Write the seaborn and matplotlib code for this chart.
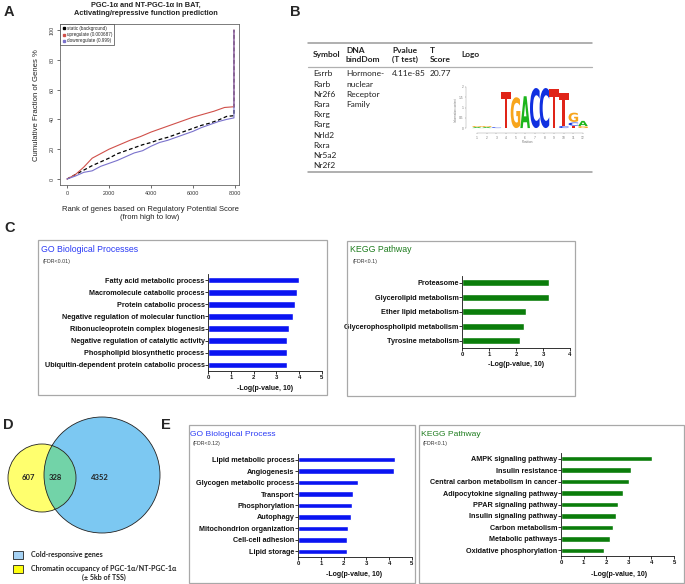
import numpy as np
import pandas as pd
import matplotlib
matplotlib.use("Agg")
import matplotlib.pyplot as plt
import seaborn as sns
from matplotlib.patches import Rectangle, Circle, PathPatch
from matplotlib.textpath import TextPath
from matplotlib.font_manager import FontProperties
from matplotlib.lines import Line2D
from matplotlib.path import Path

# ---------------- data ----------------
# Panel A: cumulative fraction curves
static_rank = [0, 400, 800, 1200, 1600, 2000, 2400, 2800, 3200, 3600, 4000, 4400, 4800, 5200, 5600, 6000, 6400, 6800, 7200, 7600, 7950, 7950]
static_frac = [0, 3, 6, 9, 11.5, 14, 17, 19, 21, 23, 24.5, 26.5, 28, 30, 32, 34, 36, 37.5, 39.5, 42, 42.5, 100]
up_rank = [0, 400, 800, 1200, 1600, 2000, 2500, 3000, 3500, 4000, 4500, 5000, 5500, 6000, 6500, 7000, 7500, 7950, 7950]
up_frac = [0, 3, 8, 14, 17, 20, 23, 26, 28.5, 31.5, 34, 36.5, 39, 41.5, 43.5, 45.5, 48, 48.5, 100]
down_rank = [0, 400, 800, 1200, 1600, 2000, 2400, 2800, 3200, 3600, 4000, 4400, 4800, 5200, 5600, 6000, 6400, 6800, 7200, 7600, 7950, 7950]
down_frac = [0, 2, 4.5, 5.5, 8.5, 10.5, 12.5, 15, 17.5, 19, 22, 24.5, 26, 28, 30, 32, 34.5, 36.5, 38.5, 40, 41, 100]
legend_labels = ["static (background)", "upregulate (0.000687)", "downregulate (0.999)"]

# Panel B: motif table
table_header = ["Symbol", "DNA\nbindDom", "Pvalue\n(T test)", "T\nScore", "Logo"]
tf_symbols = ["Esrrb", "Rarb", "Nr2f6", "Rara", "Rxrg", "Rarg", "Nrld2", "Rxra", "Nr5a2", "Nr2f2"]
dna_binding = ["Hormone-", "nuclear", "Receptor", "Family"]
motif_pvalue = "4.11e-85"
motif_tscore = "20.77"
logo_pos = [1, 1, 2, 2, 3, 4, 5, 6, 7, 8, 9, 10, 10, 11, 11, 11, 12, 12]
logo_letter = ["A", "G", "A", "G", "C", "T", "G", "A", "C", "C", "T", "C", "T", "T", "C", "G", "G", "A"]
logo_bottom = [0, 0.05, 0, 0.05, 0, 0, 0, 0, 0, 0, 0, 0, 0.1, 0, 0.12, 0.3, 0, 0.1]
logo_height = [0.05, 0.05, 0.05, 0.05, 0.04, 1.75, 1.5, 1.55, 1.95, 1.95, 1.9, 0.1, 1.6, 0.1, 0.15, 0.45, 0.1, 0.25]

# Panel C
go_c_terms = ["Fatty acid metabolic process", "Macromolecule catabolic process", "Protein catabolic process",
              "Negative regulation of molecular function", "Ribonucleoprotein complex biogenesis",
              "Negative regulation of catalytic activity", "Phospholipid biosynthetic process",
              "Ubiquitin-dependent protein catabolic process"]
go_c_vals = [3.97, 3.91, 3.80, 3.72, 3.57, 3.48, 3.48, 3.45]
kegg_c_terms = ["Proteasome", "Glycerolipid metabolism", "Ether lipid metabolism",
                "Glycerophospholipid metabolism", "Tyrosine metabolism"]
kegg_c_vals = [3.22, 3.22, 2.36, 2.31, 2.16]

# Panel D
venn_counts = [607, 328, 4352]
venn_legend = ["Cold-responsive genes", "Chromatin occupancy of PGC-1\u03b1/NT-PGC-1\u03b1", "(\u00b1 5kb of TSS)"]

# Panel E
go_e_terms = ["Lipid metabolic process", "Angiogenesis", "Glycogen metabolic process", "Transport",
              "Phosphorylation", "Autophagy", "Mitochondrion organization", "Cell-cell adhesion", "Lipid storage"]
go_e_vals = [4.26, 4.23, 2.62, 2.40, 2.37, 2.31, 2.18, 2.17, 2.17]
kegg_e_terms = ["AMPK signaling pathway", "Insulin resistance", "Central carbon metabolism in cancer",
                "Adipocytokine signaling pathway", "PPAR signaling pathway", "Insulin signaling pathway",
                "Carbon metabolism", "Metabolic pathways", "Oxidative phosphorylation"]
kegg_e_vals = [4.02, 3.08, 3.00, 2.74, 2.51, 2.43, 2.32, 2.17, 1.91]

# ---------------- style ----------------
sns.set_style("ticks")
plt.rcParams["font.family"] = ["Liberation Sans", "DejaVu Sans"]
plt.rcParams["axes.linewidth"] = 0.6

W, H = 685, 584
fig = plt.figure(figsize=(W / 100, H / 100), dpi=100)


def box(x0, y0, x1, y1):
    return [x0 / W, 1 - y1 / H, (x1 - x0) / W, (y1 - y0) / H]


def T(x, y, s, **kw):
    kw.setdefault("va", "center")
    return fig.text(x / W, 1 - y / H, s, **kw)


def hline(x0, x1, y, **kw):
    fig.add_artist(Line2D([x0 / W, x1 / W], [1 - y / H, 1 - y / H], **kw))


def frame(x0, y0, x1, y1):
    fig.add_artist(Rectangle((x0 / W, 1 - y1 / H), (x1 - x0) / W, (y1 - y0) / H,
                             transform=fig.transFigure, fill=False, ec="#a8a8a8", lw=0.9))


BLUE = "#0a14f2"
GREEN = "#0b7d0b"
TITLE_BLUE = "#2b3bf5"
TITLE_GREEN = "#1f7d1f"

# panel letters
for lab, (x, y) in {"A": (4, 12), "B": (290, 12), "C": (4, 228), "D": (3, 425), "E": (161, 425)}.items():
    T(x, y, lab, fontsize=10.5, fontweight="bold")

# ---------------- Panel A ----------------
axA = fig.add_axes(box(60, 24, 239, 185))
sns.lineplot(x=static_rank, y=static_frac, sort=False, estimator=None, color="black",
             linestyle=(0, (3, 2)), lw=0.9, ax=axA)
sns.lineplot(x=up_rank, y=up_frac, sort=False, estimator=None, color="#d0504a", lw=0.8, ax=axA)
sns.lineplot(x=down_rank, y=down_frac, sort=False, estimator=None, color="#7a72cc", lw=0.8, ax=axA)
axA.set_xlim(-333, 8190)
axA.set_ylim(-4, 104)
axA.set_xticks([0, 2000, 4000, 6000, 8000])
axA.set_yticks([0, 20, 40, 60, 80, 100])
axA.tick_params(labelsize=3.9, length=2, width=0.5, pad=2, colors="#333333")
for t in axA.get_yticklabels():
    t.set_rotation(90)
    t.set_va("center")
for s in axA.spines.values():
    s.set_color("#666666")
    s.set_linewidth(0.6)
axA.set_xlabel("")
axA.set_ylabel("")
handles = [Line2D([], [], marker="s", ls="", color=c, ms=1.8, label=l)
           for c, l in zip(["black", "#d0504a", "#7a72cc"], legend_labels)]
lg = axA.legend(handles=handles, loc="upper left", fontsize=3.3, frameon=True, fancybox=False,
                edgecolor="#444444", framealpha=1, borderaxespad=0, handletextpad=0.2,
                borderpad=0.45, labelspacing=0.25, handlelength=0.8)
lg.get_frame().set_linewidth(0.5)
T(146, 9.5, "PGC-1\u03b1 and NT-PGC-1\u03b1 in BAT,\nActivating/repressive function prediction",
  ha="center", fontsize=5.3, fontweight="bold", color="#222222", linespacing=1.25)
T(37, 105, "Cumulative Fraction of Genes %", rotation=90, ha="center", fontsize=5.6, color="#222222")
T(150, 213.5, "Rank of genes based on Regulatory Potential Score\n(from high to low)",
  ha="center", fontsize=5.5, color="#222222", linespacing=1.25)

# ---------------- Panel B ----------------
tfont = dict(family=["Lato", "DejaVu Sans"], fontsize=6.0, color="#222222")
hline(308, 592, 43.3, color="#9a9a9a", lw=1.1)
hline(308, 592, 66.7, color="#b0b0b0", lw=0.9)
hline(308, 592, 171.7, color="#9a9a9a", lw=1.1)
col_x = [313, 346, 392, 430, 461]
for x, h in zip(col_x, table_header):
    T(x, 55, h, ha="left", fontweight="bold", linespacing=1.35, **tfont)
row_y0, row_dy = 74, 10.2
for i, s in enumerate(tf_symbols):
    T(313, row_y0 + i * row_dy, s, ha="left", **tfont)
for i, s in enumerate(dna_binding):
    T(346, row_y0 + i * row_dy, s, ha="left", **tfont)
T(392, row_y0, motif_pvalue, ha="left", **tfont)
T(430, row_y0, motif_tscore, ha="left", **tfont)

fp = FontProperties(family="DejaVu Sans", weight="bold")
logo_colors = {"A": "#1cb51c", "C": "#1030e0", "G": "#f7a51c", "T": "#e02418"}


def draw_logo(ax):
    for p, l, b, h in zip(logo_pos, logo_letter, logo_bottom, logo_height):
        tp = TextPath((0, 0), l, size=1, prop=fp)
        verts = np.asarray(tp.vertices, dtype=float)
        codes = tp.codes
        real = verts[codes != Path.CLOSEPOLY] if codes is not None else verts
        x0, y0 = real[:, 0].min(), real[:, 1].min()
        x1, y1 = real[:, 0].max(), real[:, 1].max()
        wdt = 1.0
        nv = np.column_stack([(verts[:, 0] - x0) / (x1 - x0) * wdt + p - wdt / 2,
                              (verts[:, 1] - y0) / (y1 - y0) * h + b])
        ax.add_patch(PathPatch(Path(nv, codes), fc=logo_colors[l], ec="none"))
    ax.set_xlim(-0.14, 12.73)
    ax.set_ylim(-0.24, 2.0)


axL = fig.add_axes(box(466, 87, 590, 133))
draw_logo(axL)
axL.set_xticks(range(1, 13))
axL.set_yticks([0, 0.5, 1, 1.5, 2])
axL.set_yticklabels(["0", "0.5", "1", "1.5", "2"])
axL.tick_params(labelsize=2.3, length=1, width=0.3, pad=1, colors="#777777")
for s in ["top", "right"]:
    axL.spines[s].set_visible(False)
axL.spines["left"].set_bounds(0, 2)
axL.spines["bottom"].set_bounds(1, 12)
for s in ["left", "bottom"]:
    axL.spines[s].set_linewidth(0.3)
    axL.spines[s].set_color("#999999")
axL.set_xlabel("Position", fontsize=2.3, labelpad=0.5, color="#777777")
axL.set_ylabel("Information content", fontsize=2.0, labelpad=0.5, color="#777777")
axL.patch.set_alpha(0)


# ---------------- bar panels ----------------
def bar_panel(px, terms, vals, color, xmax, width, labsize=5.25):
    ax = fig.add_axes(box(*px))
    df = pd.DataFrame({"term": terms, "val": vals})
    sns.barplot(data=df, x="val", y="term", orient="h", color=color, saturation=1,
                width=width, ax=ax)
    ax.set_xlim(0, xmax)
    ax.set_xticks(range(xmax + 1))
    ax.set_ylim(len(terms) - 0.5, -0.5)
    ax.set_xlabel("")
    ax.set_ylabel("")
    sns.despine(ax=ax)
    ax.patch.set_alpha(0)
    ax.tick_params(axis="y", length=2, width=0.6, labelsize=labsize, pad=0.5, colors="#111111")
    ax.tick_params(axis="x", length=2, width=0.6, labelsize=4.2, pad=1, colors="#111111")
    for t in ax.get_yticklabels() + ax.get_xticklabels():
        t.set_fontweight("bold")
    for s in ["left", "bottom"]:
        ax.spines[s].set_linewidth(0.6)
        ax.spines[s].set_color("#111111")
    return ax


# Panel C
frame(38, 240, 327, 395)
frame(347, 241, 575, 396)
T(41, 250, "GO Biological Processes", ha="left", fontsize=6.3, color=TITLE_BLUE)
T(43, 262, "(FDR<0.01)", ha="left", fontsize=3.8, color="#333333")
T(350, 250, "KEGG Pathway", ha="left", fontsize=6.3, color=TITLE_GREEN)
T(353, 261, "(FDR<0.1)", ha="left", fontsize=3.8, color="#333333")
bar_panel((208, 274, 322, 371), go_c_terms, go_c_vals, BLUE, 5, 0.55)
bar_panel((462, 275.5, 570, 348), kegg_c_terms, kegg_c_vals, GREEN, 4, 0.46)
T(265, 388, "-Log(p-value, 10)", ha="center", fontsize=5.0, fontweight="bold", color="#111111")
T(516, 364, "-Log(p-value, 10)", ha="center", fontsize=5.0, fontweight="bold", color="#111111")

# Panel E
frame(189, 425, 415, 583)
frame(419, 425, 684, 583)
T(190, 435, "GO Biological Process", ha="left", fontsize=6.1, color=TITLE_BLUE)
T(193, 444, "(FDR<0.12)", ha="left", fontsize=3.8, color="#333333")
T(421, 434, "KEGG Pathway", ha="left", fontsize=6.1, color=TITLE_GREEN)
T(423, 444, "(FDR<0.1)", ha="left", fontsize=3.8, color="#333333")
bar_panel((298, 454, 412, 557), go_e_terms, go_e_vals, BLUE, 5, 0.47)
bar_panel((561, 453, 674, 556), kegg_e_terms, kegg_e_vals, GREEN, 5, 0.47)
T(354, 575, "-Log(p-value, 10)", ha="center", fontsize=5.0, fontweight="bold", color="#111111")
T(619, 575, "-Log(p-value, 10)", ha="center", fontsize=5.0, fontweight="bold", color="#111111")

# ---------------- Panel D (Venn) ----------------
axV = fig.add_axes(box(0, 412, 165, 540))
axV.set_xlim(0, 165)
axV.set_ylim(540, 412)
axV.axis("off")
blue_c = Circle((102, 475), 58, fc="#7cc8f2", ec="none", zorder=1)
yel_c = Circle((42, 478), 34, fc="#ffff6e", ec="none", zorder=2)
axV.add_patch(blue_c)
axV.add_patch(yel_c)
inter = Circle((42, 478), 34, fc="#72d3a8", ec="none", zorder=3)
axV.add_patch(inter)
inter.set_clip_path(blue_c)
axV.add_patch(Circle((102, 475), 58, fill=False, ec="#222222", lw=0.6, zorder=4))
axV.add_patch(Circle((42, 478), 34, fill=False, ec="#222222", lw=0.6, zorder=4))
vfont = dict(family=["Lato", "DejaVu Sans"], fontweight="bold", color="#222222")
for (x, y), n in zip([(28, 478), (55, 478), (100, 478)], venn_counts):
    axV.text(x, y, str(n), ha="center", va="center", fontsize=5.5, zorder=5, **vfont)

fig.add_artist(Rectangle((13 / W, 1 - 559 / H), 10 / W, 8 / H, transform=fig.transFigure,
                         fc="#a6d2f4", ec="#222222", lw=0.6))
fig.add_artist(Rectangle((13 / W, 1 - 573 / H), 10 / W, 8 / H, transform=fig.transFigure,
                         fc="#ffff10", ec="#222222", lw=0.6))
T(31, 555, venn_legend[0], ha="left", fontsize=5.1, **vfont)
T(31, 568.5, venn_legend[1], ha="left", fontsize=5.1, **vfont)
T(103.5, 577.5, venn_legend[2], ha="center", fontsize=5.1, **vfont)

fig.savefig("out.png", dpi=100)
